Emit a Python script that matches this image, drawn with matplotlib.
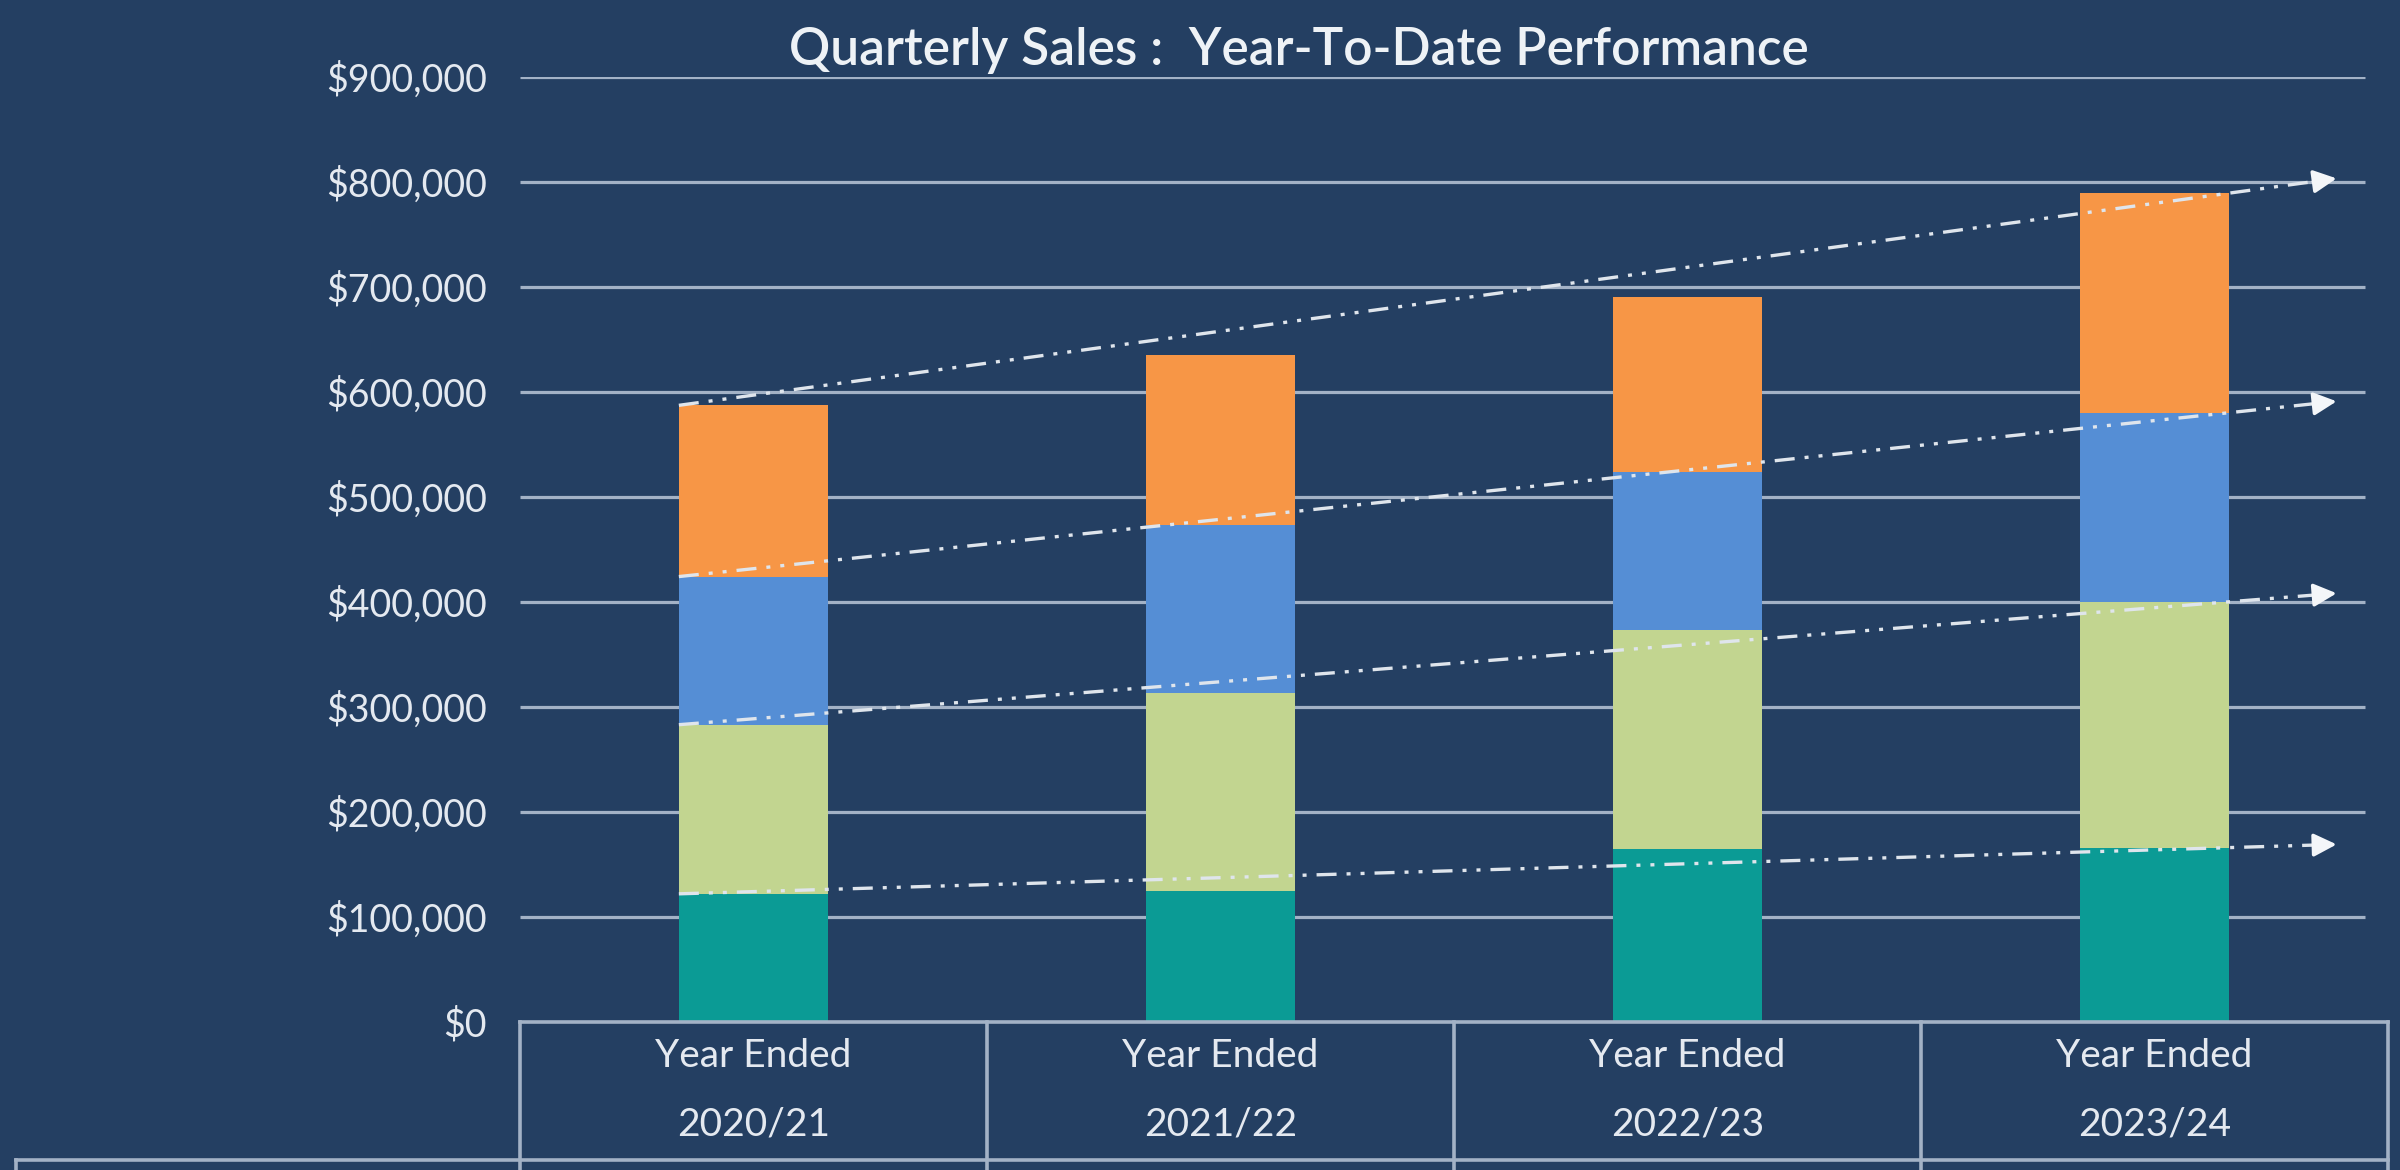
import matplotlib.pyplot as plt

# quarterly sales per year (Q1..Q4 stacked)
years = ['2020/21', '2021/22', '2022/23', '2023/24']
q1 = [122000, 125000, 165000, 166000]
q2 = [161000, 188000, 208000, 234000]
q3 = [141000, 160000, 151000, 180000]
q4 = [163000, 162000, 166000, 209000]
y_ticks = [0, 100000, 200000, 300000, 400000, 500000, 600000, 700000, 800000, 900000]

bg = '#243f62'
grid_col = '#a3b2c6'
text_col = '#e4e9f0'
colors = ['#0b9b95', '#c2d590', '#558ed5', '#f79646']

plt.rcParams.update({
    "font.family": ["Lato", "DejaVu Sans"],
})

fig = plt.figure(figsize=(24, 11.7), dpi=100, facecolor=bg)
ax = fig.add_axes([0.2167, 0.1265, 0.7783, 0.8081])
ax.set_facecolor(bg)

x = list(range(len(years)))
bar_w = 0.32

# gridlines
ax.hlines(y_ticks[1:], -0.5, 3.45, colors=grid_col, linewidth=2.3, zorder=1)

# stacked bars
bottom = [0] * len(years)
levels = []
for vals, c in zip([q1, q2, q3, q4], colors):
    ax.bar(x, vals, bar_w, bottom=bottom, color=c, linewidth=0, zorder=2)
    bottom = [b + v for b, v in zip(bottom, vals)]
    levels.append(list(bottom))

# trend lines: first bar left-top to last bar right-top, extended
x0 = x[0] - bar_w / 2
x1 = x[-1] + bar_w / 2
x_end = 3.39
for lev in levels:
    slope = (lev[-1] - lev[0]) / (x1 - x0)
    y_end = lev[0] + slope * (x_end - x0)
    ax.plot([x0, x_end - 0.03], [lev[0], y_end - slope * 0.03], color='#dfe5ec',
            linewidth=2.4, dashes=(6, 3, 1.2, 3, 1.2, 3), zorder=3)
    ax.annotate('', xy=(x_end, y_end), xytext=(x_end - 0.05, y_end - slope * 0.05),
                arrowprops=dict(arrowstyle='-|>,head_length=1.4,head_width=0.7',
                                color='#f4f6f9', lw=2.5, shrinkA=0, shrinkB=0),
                zorder=4)

ax.set_xlim(-0.5, 3.5)
ax.set_ylim(0, 900000)
ax.set_yticks(y_ticks)
ax.set_yticklabels([f'${v:,.0f}' for v in y_ticks])
ax.set_xticks([])
ax.tick_params(axis='y', length=0, pad=24, labelsize=27, labelcolor=text_col)
for s in ax.spines.values():
    s.set_visible(False)

# table below the axis
tbl_bottom = -131000
ax.plot([-0.5, 3.5], [0, 0], color=grid_col, linewidth=2.6, clip_on=False, zorder=5)
ax.plot([-1.58, 3.5], [tbl_bottom, tbl_bottom], color=grid_col, linewidth=2.6,
        clip_on=False, zorder=5)
for xb in [-0.5, 0.5, 1.5, 2.5, 3.5]:
    ax.plot([xb, xb], [0, -160000], color=grid_col, linewidth=2.6, clip_on=False, zorder=5)
ax.plot([-1.58, -1.58], [tbl_bottom, -160000], color=grid_col, linewidth=2.6,
        clip_on=False, zorder=5)
for xi, yr in zip(x, years):
    ax.text(xi, -32000, 'Year Ended', ha='center', va='center', fontsize=28,
            color=text_col, clip_on=False)
    ax.text(xi, -98000, yr, ha='center', va='center', fontsize=28,
            color=text_col, clip_on=False)

fig.text(0.541, 0.957, 'Quarterly Sales :  Year-To-Date Performance', ha='center',
         va='center', fontsize=37, fontweight='semibold', color='#eef2f6')

plt.savefig('out.png', dpi=100, facecolor=bg)
